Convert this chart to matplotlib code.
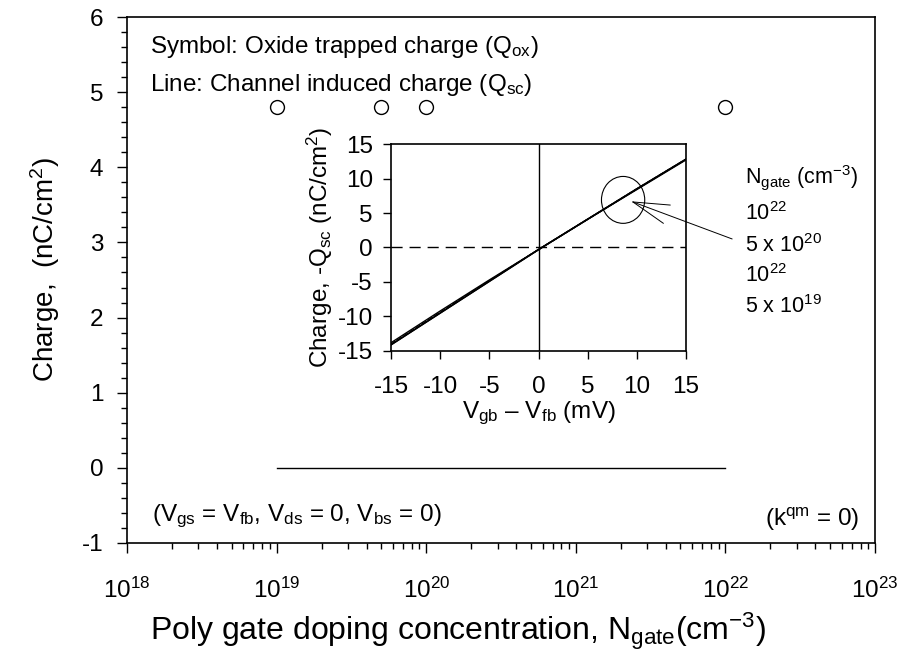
import numpy as np
import matplotlib
matplotlib.use('Agg')
import matplotlib.pyplot as plt
from matplotlib.patches import Ellipse
from matplotlib.ticker import MultipleLocator, LogLocator, NullFormatter

plt.rcParams['font.family'] = ['Liberation Sans', 'DejaVu Sans']
plt.rcParams['mathtext.fontset'] = 'custom'
plt.rcParams['mathtext.rm'] = 'Liberation Sans'
plt.rcParams['mathtext.it'] = 'Liberation Sans'
plt.rcParams['mathtext.bf'] = 'Liberation Sans'
plt.rcParams['axes.unicode_minus'] = False

# main plot data
ngate_sym = [1e19, 5e19, 1e20, 1e22]      # oxide trapped charge symbols
qox = [4.8, 4.8, 4.8, 4.8]
ngate_line = [1e19, 1e22]                  # channel induced charge line
qsc = [0.0, 0.0]

# inset data: -Qsc vs Vgb - Vfb for four gate dopings
vgb = [-15, -10, -5, 0, 5, 10, 15]
qsc_1e22 = [-14.1, -9.5, -4.9, -0.3, 4.1, 8.5, 12.8]
qsc_5e20 = [-14.1, -9.5, -4.9, -0.3, 4.1, 8.5, 12.8]
qsc_1e22b = [-14.0, -9.4, -4.8, -0.3, 4.1, 8.5, 12.8]
qsc_5e19 = [-13.8, -9.2, -4.7, -0.3, 4.1, 8.4, 12.7]

fig = plt.figure(figsize=(9.13, 6.72), dpi=100)
ax = fig.add_axes([0.1391, 0.1920, 0.8193, 0.7827])

ax.plot(ngate_sym, qox, 'o', mfc='white', mec='black', ms=10, mew=1.0)
ax.plot(ngate_line, qsc, '-', color='black', lw=1.0)

ax.set_xscale('log')
ax.set_xlim(1e18, 1e23)
ax.set_ylim(-1, 6)
ax.yaxis.set_major_locator(MultipleLocator(1))
ax.yaxis.set_minor_locator(MultipleLocator(0.2))
ax.xaxis.set_minor_locator(LogLocator(base=10, subs=np.arange(2, 10), numticks=20))
ax.xaxis.set_minor_formatter(NullFormatter())
ax.set_xticks([1e18, 1e19, 1e20, 1e21, 1e22, 1e23])
ax.set_xticklabels([r'$\mathregular{10^{%d}}$' % e for e in range(18, 24)])
ax.tick_params(which='both', direction='out', width=1.0)
ax.tick_params(which='major', length=7, labelsize=17.5)
ax.tick_params(which='minor', length=4)
ax.tick_params(axis='x', pad=18)
ax.tick_params(axis='y', pad=10)
for s in ax.spines.values():
    s.set_linewidth(1.2)

ax.set_ylabel(r'Charge,  (nC/cm$^\mathregular{2}$)', fontsize=20)
ax.yaxis.set_label_coords(-0.087, 0.52)
ax.set_xlabel(r'Poly gate doping concentration, N$_\mathregular{gate}$(cm$^\mathregular{-3}$)',
              fontsize=23)
ax.xaxis.set_label_coords(0.4425, -0.128)

fs = 17.5
ax.text(0.031, 0.932, r'Symbol: Oxide trapped charge (Q$_\mathregular{ox}$)',
        transform=ax.transAxes, fontsize=fs, va='baseline')
ax.text(0.031, 0.859, r'Line: Channel induced charge (Q$_\mathregular{sc}$)',
        transform=ax.transAxes, fontsize=fs, va='baseline')
ax.text(0.033, 0.042, r'(V$_\mathregular{gs}$ = V$_\mathregular{fb}$, V$_\mathregular{ds}$ = 0, V$_\mathregular{bs}$ = 0)',
        transform=ax.transAxes, fontsize=fs, va='baseline')
ax.text(0.979, 0.032, r'(k$^\mathregular{qm}$ = 0)',
        transform=ax.transAxes, fontsize=fs, va='baseline', ha='right')

# legend-like labels for inset curves
lab_x = 0.826
lfs = 15.5
ax.text(lab_x, 0.684, r'N$_\mathregular{gate}$ (cm$^\mathregular{-3}$)', transform=ax.transAxes, fontsize=lfs, va='baseline')
ax.text(lab_x, 0.614, r'10$^\mathregular{22}$', transform=ax.transAxes, fontsize=lfs, va='baseline')
ax.text(lab_x, 0.553, r'5 x 10$^\mathregular{20}$', transform=ax.transAxes, fontsize=lfs, va='baseline')
ax.text(lab_x, 0.496, r'10$^\mathregular{22}$', transform=ax.transAxes, fontsize=lfs, va='baseline')
ax.text(lab_x, 0.437, r'5 x 10$^\mathregular{19}$', transform=ax.transAxes, fontsize=lfs, va='baseline')

# inset
ins = fig.add_axes([0.4283, 0.4777, 0.3231, 0.3080])
ins.plot(vgb, qsc_1e22, '-', color='black', lw=1.2)
ins.plot(vgb, qsc_5e20, '-', color='black', lw=1.0)
ins.plot(vgb, qsc_1e22b, '--', color='black', lw=1.0)
ins.plot(vgb, qsc_5e19, '-', color='black', lw=1.0)
ins.axhline(0, color='black', lw=1.0, ls=(0, (8, 5)))
ins.axvline(0, color='black', lw=1.0)
ins.set_xlim(-15, 15)
ins.set_ylim(-15, 15)
ins.xaxis.set_major_locator(MultipleLocator(5))
ins.yaxis.set_major_locator(MultipleLocator(5))
ins.tick_params(direction='out', length=6, width=1.0, labelsize=17.5)
ins.tick_params(axis='x', pad=12)
ins.tick_params(axis='y', pad=7)
for s in ins.spines.values():
    s.set_linewidth(1.2)
ins.set_ylabel(r'Charge, -Q$_\mathregular{sc}$ (nC/cm$^\mathregular{2}$)', fontsize=17.5, labelpad=2)
ins.set_xlabel(r'V$_\mathregular{gb}$ – V$_\mathregular{fb}$ (mV)', fontsize=17.5, labelpad=1)

ins.add_patch(Ellipse((8.6, 6.9), 4.4, 6.8, fill=False, ec='black', lw=0.8))
ins.annotate('', xy=(9.6, 6.6), xytext=(13.4, 6.15),
             arrowprops=dict(arrowstyle='-', color='black', lw=0.7, shrinkA=0, shrinkB=0))
ins.annotate('', xy=(9.6, 6.6), xytext=(12.7, 3.5),
             arrowprops=dict(arrowstyle='-', color='black', lw=0.7, shrinkA=0, shrinkB=0))
ins.annotate('', xy=(9.6, 6.6), xytext=(0.809, 0.578), textcoords=ax.transAxes,
             arrowprops=dict(arrowstyle='-', color='black', lw=0.7, shrinkA=0, shrinkB=0))

fig.savefig('out.png', dpi=100)
